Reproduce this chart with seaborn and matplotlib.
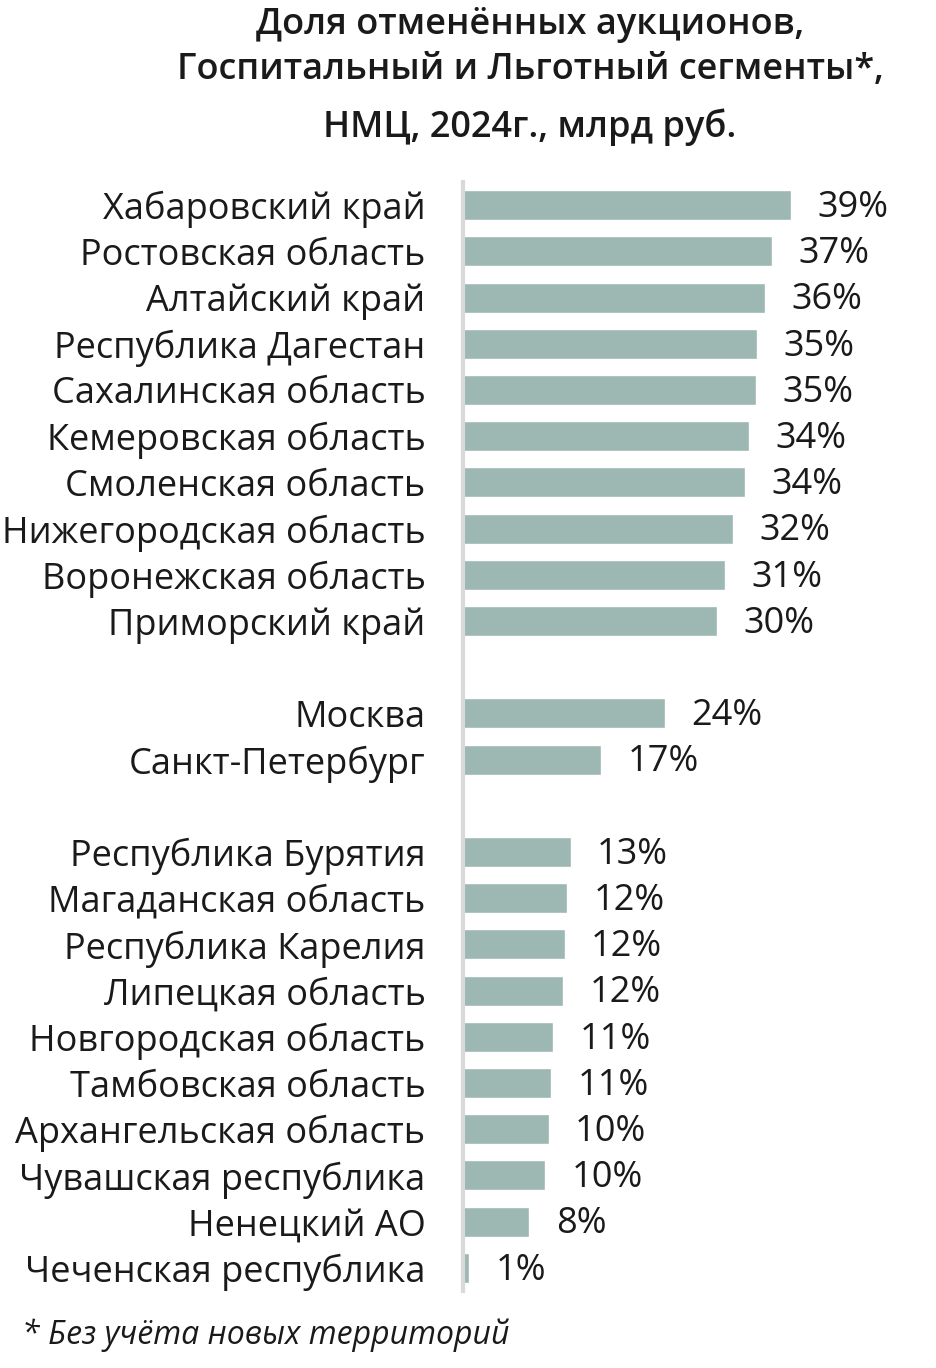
import pandas as pd
import numpy as np
import matplotlib
matplotlib.use("Agg")
import matplotlib.pyplot as plt
import seaborn as sns

# ------------------------- data -------------------------------------
regions = ['Хабаровский край', 'Ростовская область', 'Алтайский край', 'Республика Дагестан',
           'Сахалинская область', 'Кемеровская область', 'Смоленская область',
           'Нижегородская область', 'Воронежская область', 'Приморский край',
           'Москва', 'Санкт-Петербург',
           'Республика Бурятия', 'Магаданская область', 'Республика Карелия',
           'Липецкая область', 'Новгородская область', 'Тамбовская область',
           'Архангельская область', 'Чувашская республика', 'Ненецкий АО',
           'Чеченская республика']
shares = [39.0, 36.7, 35.9, 35.0, 34.8, 34.0, 33.5, 32.1, 31.2, 30.2,
          24.0, 16.4,
          12.8, 12.4, 12.1, 11.9, 10.7, 10.5, 10.2, 9.8, 7.9, 0.7]
share_labels = ['39%', '37%', '36%', '35%', '35%', '34%', '34%', '32%', '31%', '30%',
                '24%', '17%',
                '13%', '12%', '12%', '12%', '11%', '11%', '10%', '10%', '8%', '1%']

# empty slots between the groups
order = regions[:10] + [' '] + regions[10:12] + ['  '] + regions[12:]

df = pd.DataFrame({'region': regions, 'share': shares, 'label': share_labels})

# ------------------------- plot -------------------------------------
sns.set_theme(style='white')
plt.rcParams['font.family'] = ['Open Sans', 'DejaVu Sans']

W, H = 936, 1368
fig = plt.figure(figsize=(W / 100, H / 100), dpi=100)
ax = fig.add_axes([463 / W, 1 - 1291 / H, 1 - 463 / W, (1291 - 182) / H])

sns.barplot(data=df, y='region', x='share', order=order, color='#9db7b3',
            saturation=1, width=0.65, ax=ax)

ax.set_xlim(0, (W - 463) / 8.41)
ax.set_ylim(len(order) - 0.5, -0.5)
ax.set_xlabel('')
ax.set_ylabel('')
ax.set_xticks([])
ax.tick_params(axis='y', length=0, pad=27, labelsize=26, labelcolor='#1a1a1a')
for s in ['top', 'right', 'bottom']:
    ax.spines[s].set_visible(False)
ax.spines['left'].set_color('#d9d9d9')
ax.spines['left'].set_linewidth(3)

pos = {name: i for i, name in enumerate(order)}
for r, v, lab in zip(regions, shares, share_labels):
    ax.annotate(lab, (v, pos[r]), xytext=(19, -2), textcoords='offset points',
                va='center', ha='left', fontsize=26, color='#1a1a1a')

title_lines = [('Доля отменённых аукционов,', 25),
               ('Госпитальный и Льготный сегменты*,', 70),
               ('НМЦ, 2024г., млрд руб.', 127)]
for line, y in title_lines:
    fig.text(530 / W, 1 - y / H, line, ha='center', va='center',
             fontsize=26, fontweight='semibold', color='#1a1a1a')
fig.text(22 / W, 1 - 1335 / H, '* Без учёта новых территорий', ha='left', va='center',
         fontsize=23, fontstyle='italic', color='#1a1a1a')

fig.savefig('out.png', dpi=100)
